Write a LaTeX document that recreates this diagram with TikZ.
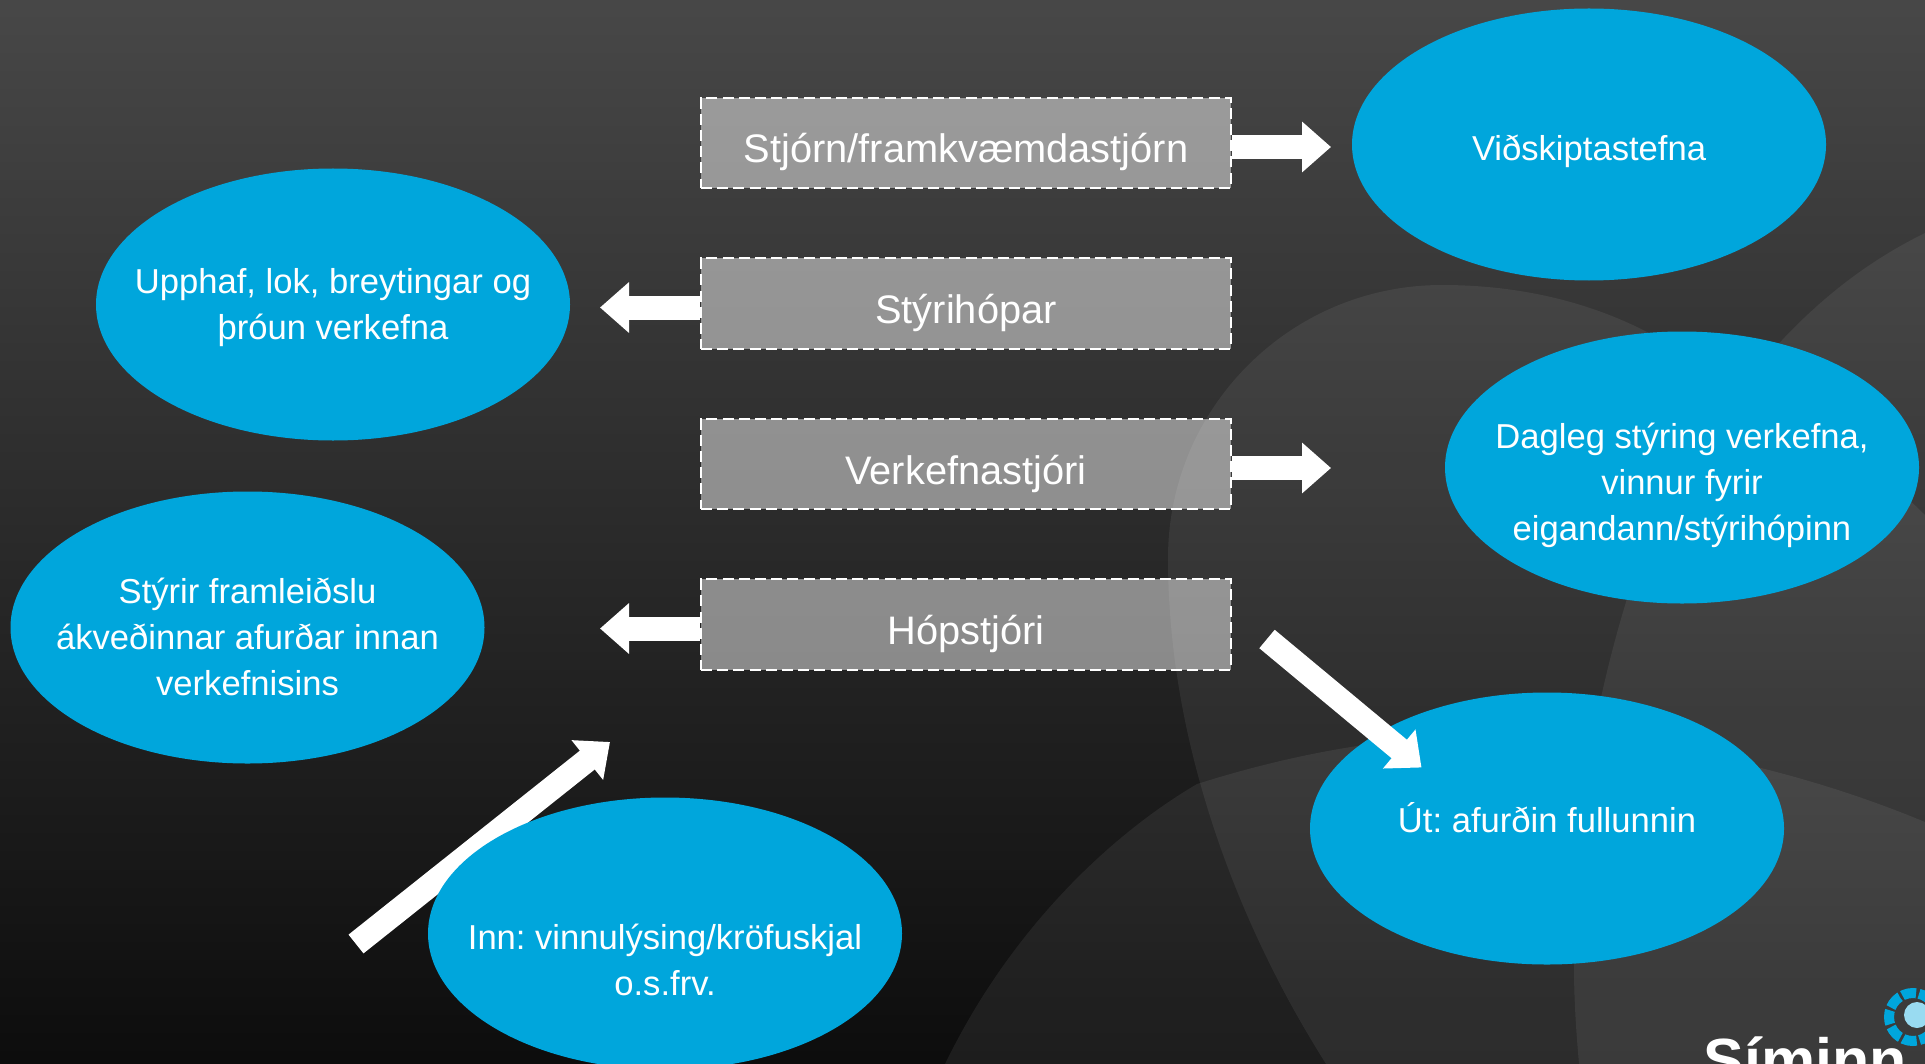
\documentclass[tikz,border=0pt]{standalone}
\usepackage{fontspec}
\setmainfont{Liberation Sans}
\usetikzlibrary{shapes.geometric,arrows.meta}
\definecolor{bluefill}{HTML}{00A6DC}
\newcommand{\boxtext}[1]{\raisebox{-10pt}[0pt][0pt]{#1}}
\tikzset{
  oval/.style={ellipse,fill=bluefill,inner sep=0pt,minimum width=237pt,minimum height=136pt},
  ovaltext/.style={align=center,text=white,font=\fontsize{17.3}{23}\selectfont\frenchspacing,inner sep=0pt},
  boxnode/.style={rectangle,draw=white,dash pattern=on 5.5pt off 2.6pt,line width=1.1pt,fill=white,fill opacity=.47,draw opacity=1,text opacity=1,text=white,inner sep=0pt,minimum width=265pt,minimum height=45.2pt,font=\fontsize{19.9}{23}\selectfont},
  blockarrow/.style={draw=white,line width=12pt,-{Triangle[length=14.5pt,width=24.5pt]}},
  bgshape/.style={fill=white,fill opacity=.065}
}
\begin{document}
\begin{tikzpicture}[x=.5pt,y=-.5pt]
\useasboundingbox (0,0) rectangle (1925,1064);
\clip (0,0) rectangle (1925,1064);
\fill[top color=black!72,bottom color=black!95,shading angle=0] (0,0) rectangle (1925,1064);
% background shapes
\fill[bgshape] (1647,332) .. controls (1585,300) and (1515,285) .. (1442,285)
  .. controls (1290,285) and (1168,408) .. (1168,558)
  .. controls (1168,740) and (1235,920) .. (1326,1064)
  -- (2000,1064) -- (2000,600) .. controls (1900,470) and (1780,390) .. (1647,332) -- cycle;
\fill[bgshape] (945,1064) .. controls (1010,930) and (1110,835) .. (1197,784)
  .. controls (1320,745) and (1420,735) .. (1500,735)
  .. controls (1650,735) and (1800,770) .. (1925,822)
  -- (2000,850) -- (2000,1100) -- (945,1100) -- cycle;
\fill[bgshape] (1925,233) .. controls (1870,260) and (1825,295) .. (1784,338)
  .. controls (1700,430) and (1650,510) .. (1626,602)
  .. controls (1590,720) and (1568,860) .. (1574,966)
  .. controls (1574,1000) and (1576,1030) .. (1579,1064)
  -- (1579,1100) -- (2000,1100) -- (2000,233) -- cycle;
% boxes
\node[boxnode] (b1) at (966,143) {\boxtext{Stjórn/framkvæmdastjórn}};
\node[boxnode] (b2) at (966,303.5) {\boxtext{Stýrihópar}};
\node[boxnode] (b3) at (966,464) {\boxtext{Verkefnastjóri}};
\node[boxnode] (b4) at (966,624.5) {\boxtext{Hópstjóri}};
% free arrow ends
\coordinate (a1) at (1331,147);
\coordinate (a2) at (600,307.5);
\coordinate (a3) at (1331,468);
\coordinate (a4) at (600,628.5);
\coordinate (a5s) at (356,944);
\coordinate (a5e) at (610,742);
\coordinate (a6s) at (1267,639);
\coordinate (a6e) at (1421.5,767.5);
% arrows from boxes
\draw[blockarrow] (b1.east |- a1) -- (a1);
\draw[blockarrow] (b2.west |- a2) -- (a2);
\draw[blockarrow] (b3.east |- a3) -- (a3);
\draw[blockarrow] (b4.west |- a4) -- (a4);
\draw[blockarrow] (a5s) -- (a5e);
% ellipses
\node[oval] (e1) at (1589,144.5) {};
\node[oval] (e2) at (333,304.5) {};
\node[oval] (e3) at (1682,467.5) {};
\node[oval] (e4) at (247.5,627.5) {};
\node[oval] (e5) at (1547,828.5) {};
\node[oval] (e6) at (665,933.5) {};
\node[ovaltext] (t1) at (1589,151) {Viðskiptastefna};
\node[ovaltext] (t2) at (333,308) {Upphaf, lok, breytingar og\\þróun verkefna};
\node[ovaltext] (t3) at (1682,485) {Dagleg stýring verkefna,\\vinnur fyrir\\eigandann/stýrihópinn};
\node[ovaltext] (t4) at (247.5,637) {Stýrir framleiðslu\\ákveðinnar afurðar innan\\verkefnisins};
\node[ovaltext] (t5) at (1547,818) {Út: afurðin fullunnin};
\node[ovaltext] (t6) at (665,960) {Inn: vinnulýsing/kröfuskjal\\o.s.frv.};
\draw[blockarrow] (a6s) -- (a6e);
% logo
\node[anchor=base west,text=white,inner sep=0pt,font=\fontsize{30.5}{30}\bfseries\selectfont] (logo) at (1703,1081) {Síminn};
\draw[draw=bluefill,line width=5pt,dash pattern=on 7pt off 1.5pt] (1913,1017) circle [radius=24];
\fill[fill=bluefill!40] (1917,1015) circle [radius=13];
\end{tikzpicture}
\end{document}
